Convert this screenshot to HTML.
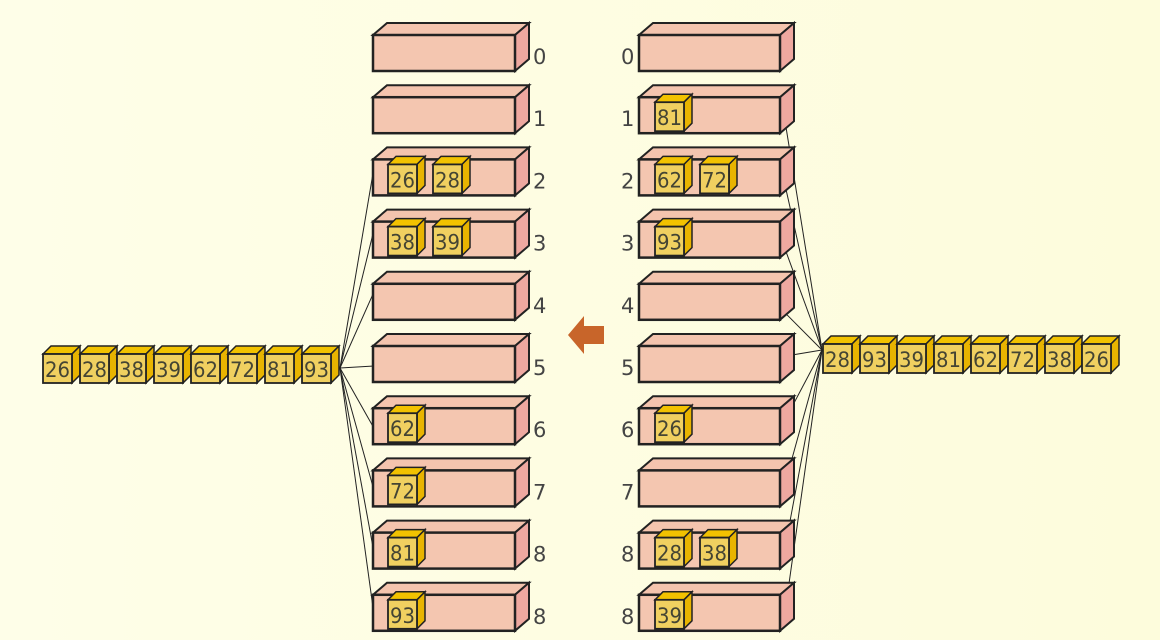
<!DOCTYPE html>
<html><head><meta charset="utf-8"><style>
html,body{margin:0;padding:0;width:1160px;height:640px;overflow:hidden;background:#fefee6;}
svg{display:block;font-family:"DejaVu Sans","Liberation Sans",sans-serif;}
</style></head><body>
<svg id="chart" width="1160" height="640" viewBox="0 0 1160 640">
<defs><linearGradient id="bg" x1="0" y1="0" x2="1" y2="0"><stop offset="0" stop-color="#fefee8"/><stop offset="1" stop-color="#fdfcdc"/></linearGradient></defs>
<rect width="1160" height="640" fill="url(#bg)"/>
<g id="lines"></g><g id="g"></g>
<path d="M568,335 L584,316 L584,326 L604,326 L604,344 L584,344 L584,354 Z" fill="#c8652a"/>
</svg>
<script>
const sortedRow = [26,28,38,39,62,72,81,93];
const inputRow = [28,93,39,81,62,72,38,26];
const leftBins = [[],[],[26,28],[38,39],[],[],[62],[72],[81],[93]];
const rightBins = [[],[81],[62,72],[93],[],[],[26],[],[28,38],[39]];
const binLabels = ['0','1','2','3','4','5','6','7','8','8'];
const NS='http://www.w3.org/2000/svg';
const G=document.getElementById('g'), L=document.getElementById('lines');
function el(t,a,p){const e=document.createElementNS(NS,t);for(const k in a)e.setAttribute(k,a[k]);(p||G).appendChild(e);return e;}
function rowY(i){return 35+62.2*i;}
function bin(x,y,w,h,name){
  const g=el('g',{});
  
  
  const d=14,u=12,s='#222';
  el('path',{d:`M${x},${y} L${x+d},${y-u} L${x+w+d},${y-u} L${x+w},${y} Z`,fill:'#f4c4ae',stroke:s,'stroke-width':2},g);
  el('path',{d:`M${x+w},${y} L${x+w+d},${y-u} L${x+w+d},${y+h-u} L${x+w},${y+h} Z`,fill:'#eea8a0',stroke:s,'stroke-width':2},g);
  el('rect',{x:x,y:y,width:w,height:h,fill:'#f4c6b0',stroke:s,'stroke-width':2.5},g);
  return g;
}
function cube(x,y,v,name){
  const g=el('g',{});
  
  
  const w=29,h=29,d=8,s='#222';
  el('path',{d:`M${x},${y} L${x+d},${y-d} L${x+w+d},${y-d} L${x+w},${y} Z`,fill:'#f2c200',stroke:s,'stroke-width':1.5},g);
  el('path',{d:`M${x+w},${y} L${x+w+d},${y-d} L${x+w+d},${y+h-d} L${x+w},${y+h} Z`,fill:'#e8b400',stroke:s,'stroke-width':1.5},g);
  el('rect',{x:x,y:y,width:w,height:h,fill:'#f0d060',stroke:s,'stroke-width':1.8},g);
  const t=el('text',{x:x+2,y:y+h-6,'font-size':21,fill:'#443',textLength:25,lengthAdjust:'spacingAndGlyphs'},g);
  t.textContent=v;
}
const lsx=340,lsy=368,rsx=822,rsy=350;
leftBins.forEach((b,i)=>{const y=rowY(i);
  const ln=el('line',{x1:lsx,y1:lsy,x2:374,y2:y+(i<5?8:20),stroke:'#222','stroke-width':1},L);
  
  
  if(i<2)ln.remove();});
rightBins.forEach((b,i)=>{const y=rowY(i);
  const ln=el('line',{x1:rsx,y1:rsy,x2:786,y2:y+(i<5?30:10),stroke:'#222','stroke-width':1},L);
  
  
  if(i==0)ln.remove();});
leftBins.forEach((b,i)=>{const y=rowY(i);
  bin(373,y,142,36,'left-bin-'+i);
  b.forEach((v,j)=>cube(388+45*j,y+5,v,'left-bin-item'));
  const t=el('text',{x:533,y:y+29,'font-size':21,fill:'#444'});
  
  
  t.textContent=binLabels[i];});
rightBins.forEach((b,i)=>{const y=rowY(i);
  bin(639,y,141,36,'right-bin-'+i);
  b.forEach((v,j)=>cube(655+45*j,y+5,v,'right-bin-item'));
  const t=el('text',{x:621,y:y+29,'font-size':21,fill:'#444'});
  
  
  t.textContent=binLabels[i];});
sortedRow.forEach((v,i)=>cube(43+37*i,354,v,'sorted-item'));
inputRow.forEach((v,i)=>cube(823+37*i,344,v,'input-item'));
</script>
</body></html>
